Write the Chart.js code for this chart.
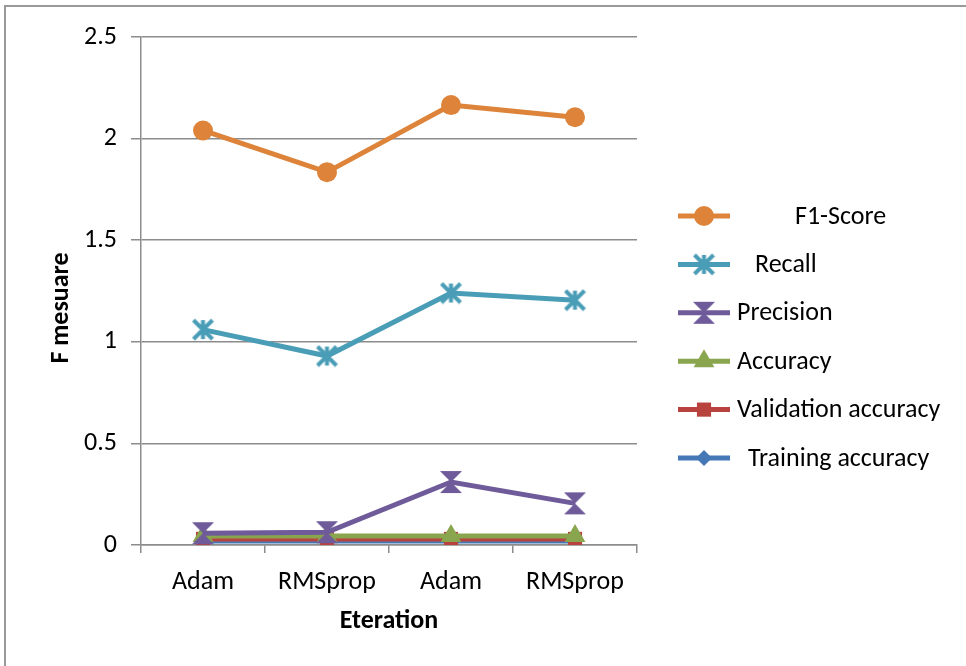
<!DOCTYPE html>
<html>
<head>
<meta charset="utf-8">
<script src="https://cdn.jsdelivr.net/npm/chart.js@4.4.1/dist/chart.umd.min.js"></script>
<style>
  html, body { margin: 0; padding: 0; background: #ffffff; }
  #wrap { position: relative; width: 966px; height: 666px; }
</style>
</head>
<body>
<div id="wrap"><canvas id="chart" width="966" height="666"></canvas></div>
<script>
// Optimiser runs along the x axis
const categories = ['Adam', 'RMSprop', 'Adam', 'RMSprop'];

// Metric values per run
const f1Score            = [2.04, 1.835, 2.165, 2.105];
const recall             = [1.06, 0.93, 1.24, 1.205];
const precision          = [0.058, 0.063, 0.31, 0.205];
const accuracy           = [0.044, 0.044, 0.044, 0.044];
const validationAccuracy = [0.03, 0.03, 0.03, 0.03];
const trainingAccuracy   = [0.02, 0.02, 0.02, 0.02];

const seriesNames = ['F1-Score', 'Recall', 'Precision', 'Accuracy', 'Validation accuracy', 'Training accuracy'];
const yTicks = [0, 0.5, 1, 1.5, 2, 2.5];
const xTitle = 'Eteration';
const yTitle = 'F mesuare';

const FONT = "Carlito, Lato, 'Liberation Sans', sans-serif";
const FONT_SIZE = 26;
const GRID = '#8c8c8c';

const COLORS = {
  f1: '#dd843a',
  recall: '#4a9db6',
  precision: '#6f5a9a',
  accuracy: '#89a54e',
  validation: '#b7423e',
  training: '#4677b6'
};

// Star (asterisk) marker for Recall
function makeStar(color, size) {
  const c = document.createElement('canvas');
  c.width = size; c.height = size;
  const g = c.getContext('2d');
  const h = size / 2, r = h - 2;
  g.strokeStyle = color; g.lineWidth = 4; g.lineCap = 'butt';
  g.beginPath();
  g.moveTo(h - r, h - r); g.lineTo(h + r, h + r);
  g.moveTo(h + r, h - r); g.lineTo(h - r, h + r);
  g.moveTo(h, h - r); g.lineTo(h, h + r);
  g.stroke();
  return c;
}

// Hourglass marker for Precision
function makeHourglass(color, size) {
  const c = document.createElement('canvas');
  c.width = size; c.height = size;
  const g = c.getContext('2d');
  const h = size / 2, r = h - 1;
  g.fillStyle = color;
  g.beginPath();
  g.moveTo(h - r, h - r); g.lineTo(h + r, h - r); g.lineTo(h, h); g.closePath();
  g.moveTo(h - r, h + r); g.lineTo(h + r, h + r); g.lineTo(h, h); g.closePath();
  g.fill();
  return c;
}

const starImg = makeStar(COLORS.recall, 23);
const hourglassImg = makeHourglass(COLORS.precision, 24);

function series(label, data, color, style, radius) {
  return {
    label, data,
    borderColor: color,
    backgroundColor: color,
    borderWidth: 5,
    pointStyle: style,
    pointRadius: radius,
    pointHoverRadius: radius,
    pointBorderWidth: 0,
    pointBackgroundColor: color,
    pointBorderColor: color,
    tension: 0
  };
}

const datasets = [
  series(seriesNames[0], f1Score, COLORS.f1, 'circle', 10),
  series(seriesNames[1], recall, COLORS.recall, starImg, 11),
  series(seriesNames[2], precision, COLORS.precision, hourglassImg, 12),
  series(seriesNames[3], accuracy, COLORS.accuracy, 'triangle', 12),
  series(seriesNames[4], validationAccuracy, COLORS.validation, 'rect', 10),
  series(seriesNames[5], trainingAccuracy, COLORS.training, 'rectRot', 8)
];

// Outer frame around the whole figure
const framePlugin = {
  id: 'frame',
  beforeDraw(chart) {
    const ctx = chart.ctx;
    ctx.save();
    ctx.fillStyle = '#ffffff';
    ctx.fillRect(0, 0, chart.width, chart.height);
    ctx.strokeStyle = '#9a9a9a';
    ctx.lineWidth = 2;
    ctx.beginPath();
    ctx.moveTo(5, chart.height + 2);
    ctx.lineTo(5, 6);
    ctx.lineTo(chart.width + 2, 6);
    ctx.stroke();
    ctx.restore();
  }
};

// Rotated value-axis title, placed beside the tick labels
const yTitlePlugin = {
  id: 'yTitle',
  afterDraw(chart, args, opts) {
    const ctx = chart.ctx;
    ctx.save();
    ctx.translate(opts.x, opts.y);
    ctx.rotate(-Math.PI / 2);
    ctx.font = 'bold ' + FONT_SIZE + 'px ' + FONT;
    ctx.fillStyle = '#000000';
    ctx.textAlign = 'center';
    ctx.textBaseline = 'middle';
    ctx.fillText(opts.text, 0, 0);
    ctx.restore();
  }
};

// Legend drawn to the right of the plot, one row per series
const sideLegend = {
  id: 'sideLegend',
  afterDraw(chart, args, opts) {
    const ctx = chart.ctx;
    ctx.save();
    ctx.font = FONT_SIZE + 'px ' + FONT;
    ctx.textBaseline = 'middle';
    ctx.textAlign = 'left';
    chart.data.datasets.forEach((ds, i) => {
      const y = opts.top + i * opts.rowGap;
      ctx.strokeStyle = ds.borderColor;
      ctx.lineWidth = 5;
      ctx.beginPath();
      ctx.moveTo(opts.lineStart, y);
      ctx.lineTo(opts.lineEnd, y);
      ctx.stroke();
      const cx = (opts.lineStart + opts.lineEnd) / 2;
      if (typeof ds.pointStyle === 'string') {
        ctx.fillStyle = ds.pointBackgroundColor;
        ctx.strokeStyle = ds.pointBorderColor;
        Chart.helpers.drawPoint(ctx, { pointStyle: ds.pointStyle, radius: ds.pointRadius, borderWidth: 0, rotation: 0 }, cx, y);
      } else {
        const img = ds.pointStyle;
        ctx.drawImage(img, cx - img.width / 2, y - img.height / 2);
      }
      ctx.fillStyle = '#000000';
      ctx.fillText(ds.label, opts.textX[i], y + 1);
    });
    ctx.restore();
  }
};

new Chart(document.getElementById('chart'), {
  type: 'line',
  data: { labels: categories, datasets },
  options: {
    responsive: false,
    animation: false,
    devicePixelRatio: 1,
    layout: { padding: { left: 36, right: 329, top: 37, bottom: 27 } },
    plugins: {
      legend: { display: false },
      tooltip: { enabled: false },
      yTitle: { text: yTitle, x: 61, y: 308 },
      sideLegend: {
        top: 216,
        rowGap: 48.4,
        lineStart: 678,
        lineEnd: 730,
        textX: [795, 755, 737, 737, 737, 748]
      }
    },
    scales: {
      x: {
        offset: true,
        afterFit(scale) { scale.height = 94; },
        grid: {
          offset: true,
          drawOnChartArea: false,
          drawTicks: true,
          tickLength: 8,
          color: GRID,
          lineWidth: 1.5
        },
        border: { display: true, color: GRID, width: 1.5 },
        ticks: {
          color: '#000000',
          font: { family: FONT, size: FONT_SIZE },
          padding: 14,
          maxRotation: 0,
          autoSkip: false
        },
        title: {
          display: true,
          text: xTitle,
          color: '#000000',
          font: { family: FONT, size: FONT_SIZE, weight: 'bold' },
          padding: { top: 0, bottom: 2 }
        }
      },
      y: {
        min: 0,
        max: 2.5,
        afterFit(scale) { scale.width = 141 - 36; },
        afterBuildTicks(scale) { scale.ticks = yTicks.map(v => ({ value: v })); },
        grid: {
          color: GRID,
          lineWidth: 1.5,
          drawTicks: true,
          tickLength: 10
        },
        border: { display: true, color: GRID, width: 1.5 },
        ticks: {
          color: '#000000',
          font: { family: FONT, size: FONT_SIZE },
          padding: 14,
          callback: v => String(v)
        },
        title: { display: false }
      }
    }
  },
  plugins: [framePlugin, yTitlePlugin, sideLegend]
});
</script>
</body>
</html>
